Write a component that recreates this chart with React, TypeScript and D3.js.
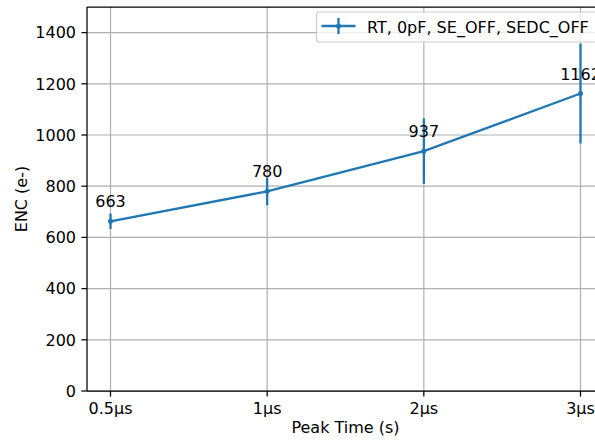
import React from "react";
import * as d3 from "d3";

const categories = ["0.5µs", "1µs", "2µs", "3µs"];
const encValues = [663, 780, 937, 1162];
const encErrors = [30, 54, 128, 195];
const yTicks = [0, 200, 400, 600, 800, 1000, 1200, 1400];
const seriesLabel = "RT, 0pF, SE_OFF, SEDC_OFF";

const W = 595;
const H = 441;
const left = 87;
const right = 604;
const top = 7;
const bottom = 391;
const C = "#1f77b4";
const FONT = "'DejaVu Sans', sans-serif";
const FS = 16;
const LW = 2.3;

export default function App() {
  const x = d3.scaleLinear().domain([-0.15, categories.length - 1 + 0.15]).range([left, right]);
  const y = d3.scaleLinear().domain([0, 1500]).range([bottom, top]);
  const idx = categories.map((_, i) => i);
  const line = d3
    .line<number>()
    .x((i) => x(i))
    .y((i) => y(encValues[i]));

  return (
    <svg
      width={W}
      height={H}
      style={{ position: "absolute", left: 0, top: 0, background: "#fff" }}
      fontFamily={FONT}
    >
      <defs>
        <clipPath id="plot">
          <rect x={left} y={top} width={right - left} height={bottom - top} />
        </clipPath>
      </defs>
      <rect width={W} height={H} fill="#fff" />
      {/* grid */}
      <g stroke="#b0b0b0" strokeWidth={1.2}>
        {yTicks.map((t) => (
          <line key={"gy" + t} x1={left} x2={right} y1={y(t)} y2={y(t)} />
        ))}
        {idx.map((i) => (
          <line key={"gx" + i} x1={x(i)} x2={x(i)} y1={top} y2={bottom} />
        ))}
      </g>
      {/* data */}
      <g clipPath="url(#plot)">
        {idx.map((i) => (
          <line
            key={"e" + i}
            x1={x(i)}
            x2={x(i)}
            y1={y(encValues[i] - encErrors[i])}
            y2={y(encValues[i] + encErrors[i])}
            stroke={C}
            strokeWidth={LW}
          />
        ))}
        <path d={line(idx) || ""} fill="none" stroke={C} strokeWidth={LW} />
        {idx.map((i) => (
          <circle key={"p" + i} cx={x(i)} cy={y(encValues[i])} r={2.5} fill={C} />
        ))}
      </g>
      {/* annotations */}
      {idx.map((i) => (
        <text
          key={"a" + i}
          x={x(i)}
          y={y(encValues[i]) - 14}
          textAnchor="middle"
          fontSize={FS}
          fill="#000"
        >
          {encValues[i]}
        </text>
      ))}
      {/* spines */}
      <g stroke="#000" strokeWidth={1.25} fill="none">
        <line x1={left} x2={left} y1={top} y2={bottom} />
        <line x1={left} x2={right} y1={bottom} y2={bottom} />
        <line x1={left} x2={right} y1={top} y2={top} />
        <line x1={right} x2={right} y1={top} y2={bottom} />
      </g>
      {/* y ticks */}
      {yTicks.map((t) => (
        <g key={"yt" + t}>
          <line x1={left - 5.6} x2={left} y1={y(t)} y2={y(t)} stroke="#000" strokeWidth={1.25} />
          <text x={left - 11} y={y(t)} dy="0.36em" textAnchor="end" fontSize={FS} fill="#000">
            {t}
          </text>
        </g>
      ))}
      {/* x ticks */}
      {idx.map((i) => (
        <g key={"xt" + i}>
          <line x1={x(i)} x2={x(i)} y1={bottom} y2={bottom + 5.6} stroke="#000" strokeWidth={1.25} />
          <text x={x(i)} y={413.5} textAnchor="middle" fontSize={FS} fill="#000">
            {categories[i]}
          </text>
        </g>
      ))}
      <text x={(left + right) / 2} y={433} textAnchor="middle" fontSize={FS} fill="#000">
        Peak Time (s)
      </text>
      <text
        transform={`translate(27,${(top + bottom) / 2}) rotate(-90)`}
        textAnchor="middle"
        fontSize={FS}
        fill="#000"
      >
        ENC (e-)
      </text>
      {/* legend */}
      <g>
        <rect
          x={316.5}
          y={12}
          width={285}
          height={30}
          rx={3}
          fill="#fff"
          fillOpacity={0.8}
          stroke="#cccccc"
          strokeWidth={1.2}
        />
        <line x1={321.5} x2={355.5} y1={26} y2={26} stroke={C} strokeWidth={LW} />
        <line x1={338.5} x2={338.5} y1={18} y2={34} stroke={C} strokeWidth={LW} />
        <circle cx={338.5} cy={26} r={2.5} fill={C} />
        <text x={367} y={32.5} fontSize={FS} fill="#000">
          {seriesLabel}
        </text>
      </g>
    </svg>
  );
}
